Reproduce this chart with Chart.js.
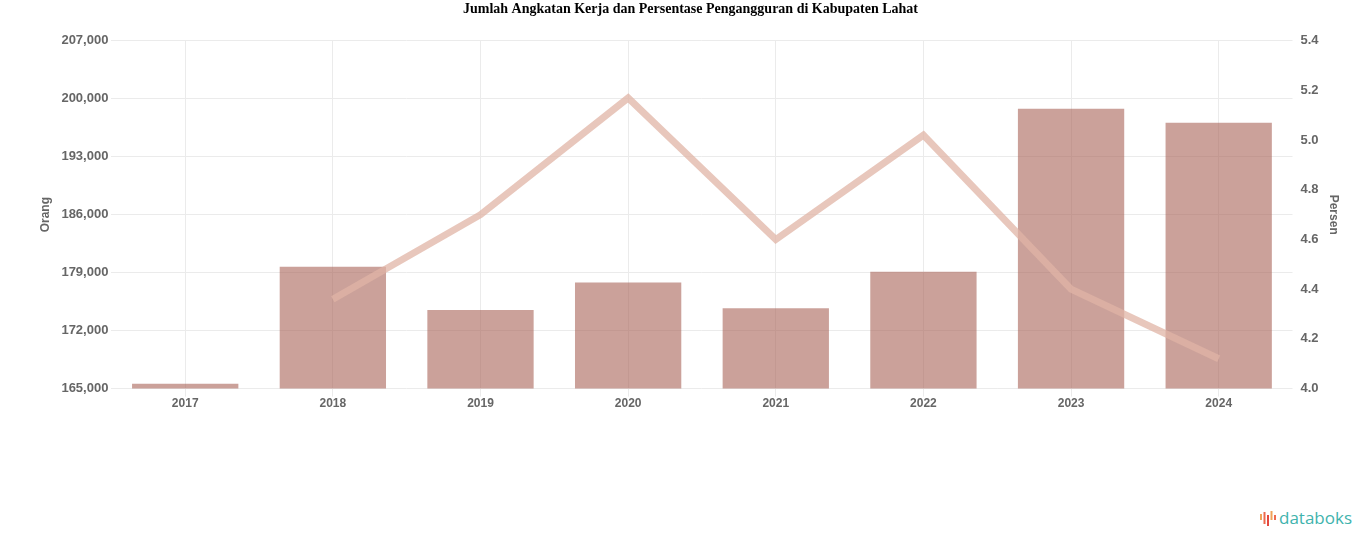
<!DOCTYPE html>
<html lang="id">
  <head>
    <meta charset="UTF-8" />
    <title>Jumlah Angkatan Kerja dan Persentase Pengangguran di Kabupaten Lahat</title>
    <script src="https://cdn.jsdelivr.net/npm/chart.js"></script>
    <style>
      body {
        margin: 0;
        background: #fff;
        width: 1366px;
        height: 547px;
        overflow: hidden;
        position: relative;
      }

      #wrap {
        position: absolute;
        left: 0;
        top: 0;
        width: 1366px;
        height: 411px;
      }

      #logo {
        position: absolute;
        right: 14px;
        bottom: 18px;
        font-family: "Open Sans", sans-serif;
        font-size: 17px;
        color: #3fb3ad;
        display: flex;
        align-items: center;
        gap: 3px;
      }
    </style>
  </head>
  <body>
    <div id="wrap"><canvas id="chart"></canvas></div>
    <div id="logo">
      <svg width="16" height="16" viewBox="0 0 16 16">
        <rect x="0" y="4" width="2" height="6" fill="#f0a35a" />
        <rect x="3.5" y="2" width="2" height="12" fill="#ee6a4e" />
        <rect x="7" y="5" width="2" height="11" fill="#e4483f" />
        <rect x="10.5" y="1" width="2" height="9" fill="#f0a35a" />
        <rect x="14" y="5" width="2" height="5" fill="#ee6a4e" />
      </svg>
      <span>databoks</span>
    </div>

    <script>
      const years = ["2017", "2018", "2019", "2020", "2021", "2022", "2023", "2024"];
      const labourForce = [165600, 179700, 174500, 177800, 174700, 179100, 198800, 197100];
      const unemployment = [null, 4.36, 4.7, 5.17, 4.6, 5.02, 4.4, 4.12];
      const leftTicks = [165000, 172000, 179000, 186000, 193000, 200000, 207000];
      const rightTicks = [4, 4.2, 4.4, 4.6, 4.8, 5, 5.2, 5.4];

      const tickFont = { family: "Liberation Sans", size: 12, weight: "bold" };
      const yTickFont = { family: "Liberation Sans", size: 13, weight: "bold" };

      const ctx = document.getElementById("chart").getContext("2d");
      const chart = new Chart(ctx, {
        data: {
          labels: years,
          datasets: [
            {
              type: "line",
              label: "Persentase Pengangguran",
              data: unemployment,
              yAxisID: "y1",
              borderColor: "rgba(224, 180, 166, 0.75)",
              borderWidth: 7,
              pointRadius: 0,
              tension: 0,
              order: 0,
            },
            {
              type: "bar",
              label: "Angkatan Kerja",
              data: labourForce,
              yAxisID: "y",
              backgroundColor: "rgba(168, 98, 86, 0.6)",
              order: 1,
            },
          ],
        },
        options: {
          responsive: true,
          maintainAspectRatio: false,
          animation: false,
          layout: { padding: { left: 32, right: 17, top: 0, bottom: 0 } },
          plugins: {
            legend: { display: false },
            tooltip: { enabled: false },
            title: {
              display: true,
              text: "Jumlah Angkatan Kerja dan Persentase Pengangguran di Kabupaten Lahat",
              color: "#000",
              font: { family: "Liberation Serif", size: 14, weight: "bold" },
              padding: { top: 1, bottom: 23 },
            },
          },
          scales: {
            x: {
              grid: { offset: false, color: "#ebebeb" },
              border: { display: false },
              ticks: { color: "#666", font: tickFont, padding: 0 },
            },
            y: {
              position: "left",
              min: leftTicks[0],
              max: leftTicks[leftTicks.length - 1],
              afterBuildTicks: (axis) => {
                axis.ticks = leftTicks.map((v) => ({ value: v }));
              },
              grid: { color: "#ebebeb", drawTicks: false },
              border: { display: false },
              ticks: {
                color: "#666",
                font: yTickFont,
                padding: 3,
                callback: (v) => v.toLocaleString("en-US"),
              },
              title: { display: true, text: "Orang", color: "#666", font: tickFont, padding: 6 },
            },
            y1: {
              position: "right",
              min: rightTicks[0],
              max: rightTicks[rightTicks.length - 1],
              afterBuildTicks: (axis) => {
                axis.ticks = rightTicks.map((v) => ({ value: v }));
              },
              grid: { display: false },
              border: { display: false },
              ticks: { color: "#666", font: yTickFont, padding: 0 },
              title: { display: true, text: "Persen", color: "#666", font: tickFont, padding: 8 },
            },
          },
        },
      });
    </script>
  </body>
</html>
